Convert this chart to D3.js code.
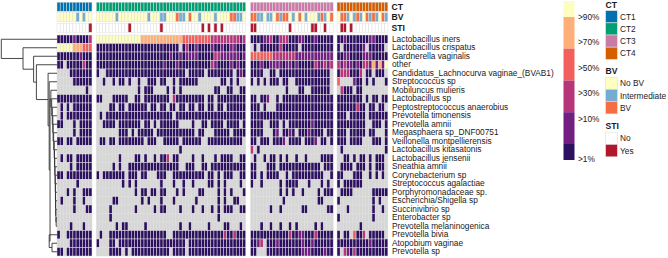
<!DOCTYPE html>
<html>

<head>
  <meta charset="UTF-8">
  <title>Vaginal microbiome heatmap</title>
  <script src="https://d3js.org/d3.v7.min.js"></script>
  <style>
    html, body { margin: 0; background: white; }
    svg { display: block; }
    text { font-family: "Liberation Sans", Arial, sans-serif; fill: #1a1a1a; }
  </style>
</head>

<body>
  <svg id="chart" width="668" height="258"></svg>

  <script>
    // row labels, top to bottom
    const taxa = ["Lactobacillus iners", "Lactobacillus crispatus", "Gardnerella vaginalis", "other",
      "Candidatus_Lachnocurva vaginae_(BVAB1)", "Streptococcus sp", "Mobiluncus mulieris", "Lactobacillus sp",
      "Peptostreptococcus anaerobius", "Prevotella timonensis", "Prevotella amnii", "Megasphaera sp_DNF00751",
      "Veillonella montpellierensis", "Lactobacillus kitasatonis", "Lactobacillus jensenii", "Sneathia amnii",
      "Corynebacterium sp", "Streptococcus agalactiae", "Porphyromonadaceae sp.", "Escherichia/Shigella sp",
      "Succinivibrio sp", "Enterobacter sp", "Prevotella melaninogenica", "Prevotella bivia",
      "Atopobium vaginae", "Prevotella sp"];

    const ctGroups = ["CT1", "CT2", "CT3", "CT4"];

    // abundance bin per sample, one string per taxon: 0 absent, 1 >1%, 2 >10%, 3 >30%, 4 >50%, 5 >70%, 6 >90%
    const ct1Bins = ["11111211113", "66666555444", "11111112111", "11011111311", "00001111111", "00000111111",
      "00000000010", "11111111111", "01010111111", "01011111111", "11000101111", "00000101111", "11011011111",
      "00000000000", "01011011111", "00001011111", "11011111111", "00000010000", "00010100111", "01000100100",
      "00000100011", "00000000000", "00001000100", "10011111111", "00001111111", "11011111111"];

    const ct2Bins = [
      "6666666666 6666555555 5555555444 4444443333 3333323",
      "1111111111 1111111111 1111110131 1211112112 1122111",
      "1111111111 1111111111 1112112122 2211111332 2222212",
      "1111111111 1111111111 1211121111 1111113211 1121211",
      "1001111111 1111111111 1111111101 1111011111 1110121",
      "0010010110 1001001110 1100101111 1100000001 1010100",
      "0000000000 0001011100 0010101000 0000000110 0110011",
      "1100011111 0011011111 1110311111 1111011011 1111111",
      "0000110110 1111110110 1101101101 1011011011 0111111",
      "0101111111 1111111111 1111011111 1111111111 1111111",
      "0011110111 1111011010 1111110000 1001101111 0111101",
      "0000000111 0101111101 1111111111 1011000111 1101111",
      "0110110111 1111101110 0111110111 1110011111 1111110",
      "0000000000 0000000000 0000001000 0000000000 0000000",
      "0000000100 0011010010 1130110000 1001000101 1110011",
      "0000010100 1111111111 1111110011 1001101111 1111111",
      "1011111110 1110110001 1100111111 1111011010 1110011",
      "0000000010 1010000000 1000100100 1000011010 1000010",
      "0000000000 0010110110 1100010100 0011000010 1010001",
      "0000011000 0000101000 1000100000 0100000010 1001100",
      "0000100000 0010000010 1100001000 1001001010 1110011",
      "0000100000 0000000000 0000000000 0000000010 0000000",
      "0000001011 0000010000 0000001001 0000010000 1100010",
      "0100111111 1111111111 1100111111 1111111111 3113111",
      "1000110111 1111111111 1111111101 1111111111 1111111",
      "0000111101 0111111111 1110111101 1111111111 1111111"];

    const ct3Bins = [
      "1111223113 3311122111 211111", "0101111113 1111101111 111111", "4444444333 3333222222 222222",
      "1112112222 1221211111 322323", "1111001101 1111111111 111110", "1010101110 1100111111 111110",
      "0000000000 0100011001 111110", "1101120010 1111111111 111111", "1110100011 1111111111 111111",
      "1111111111 1111111111 111111", "1111001110 1011111112 111111", "1111000120 1121011121 111011",
      "1101110111 2011110111 201101", "3010000000 0000000000 000000", "0100101101 0100100100 001111",
      "1100011101 1111111111 110111", "1101011110 0101111111 111001", "1001000001 0111100010 001010",
      "0000000001 0101001000 010111", "0000000000 1000000000 011000", "0000001001 0000001100 000011",
      "0000000000 0000000000 000000", "0001001001 0010100000 101000", "1111111111 1131122111 311111",
      "1123011121 1111112112 111111", "1100011111 1111112221 111211"];

    const ct4Bins = ["1121111111221111", "1011111120111110", "1122111122211111", "3232212133252526",
      "1333111301101110", "4000021101010001", "0311101100000000", "1111111101011011", "1111113110110110",
      "1110111110111111", "1111111110011101", "1110111110110001", "1110111100011101", "0100000000000001",
      "0011010110101110", "0111101110101110", "1100011100101010", "1011111100000000", "0111100000011111",
      "1000000000010100", "0001000000010010", "1000000000010000", "0000000100000000", "1011041130111110",
      "1111111111211111", "1032131111111111"];

    // top annotations per sample: n No BV, i Intermediate, b BV / 0 no, 1 yes
    const bvCalls = ["nnnnnninin n",
      "nnnnnninnn nnnnnninnn iinnnbiinb nninnnninn nnbbiin",
      "bbiiniinbi bbninbninn nibinb",
      "nbbinibinbibinbi"];
    const stiCalls = ["00000000001",
      "0000000000 1000000000 1000000000 0001010101 0000000",
      "1100000000 0010000001 100100",
      "0110100000000000"];

    const binLabels = [">90%", ">70%", ">50%", ">30%", ">10%", ">1%"];
    const binColors = ["#FCFDBF", "#FEAF77", "#F1605D", "#B63679", "#721F81", "#2D1160"];
    const bvLabels = ["No BV", "Intermediate", "BV"];
    const stiLabels = ["No", "Yes"];

    // merge heights of the row dendrogram, numbers at the leaves are row indexes
    const bottomBlock = [0.14, 23, [0.09, 24, 25]];
    const ladder = [0.11, 6, [0.095, 7, [0.085, 8, [0.075, 9, [0.07, 10, [0.06, 11, [0.05, 12, [0.045, 13,
      [0.04, 14, [0.035, 15, [0.03, 16, [0.028, 17, [0.026, 18, [0.024, 19, [0.02, 20, [0.015, 21, 22]]]]]]]]]]]]]]]];
    const rowTree = [1, 0, [0.61, 1, [0.42, 2, [0.37, 3, [0.16, 4, [0.14, 5, [0.125, ladder, bottomBlock]]]]]]];

    const svg = d3.select("svg#chart");
    const clean = s => s.replace(/ /g, "");

    const groupStarts = [57, 96.3, 250.5, 337];
    const cellWidth = 3.18;
    const allBins = [ct1Bins, ct2Bins, ct3Bins, ct4Bins];

    // one band scale per CT group, the gaps between them split the columns
    const colScales = allBins.map((bins, g) => {
      const n = clean(bins[0]).length;
      return d3.scaleBand().domain(d3.range(n)).range([groupStarts[g], groupStarts[g] + n * cellWidth]);
    });

    const rowScale = d3.scaleBand().domain(taxa).range([35, 256]);
    const binFill = d3.scaleOrdinal().domain(["6", "5", "4", "3", "2", "1", "0"])
      .range(binColors.concat(["#d6d6d6"]));
    const ctFill = d3.scaleOrdinal().domain(ctGroups).range(["#0072B2", "#009E73", "#CC79A7", "#D55E00"]);
    const bvFill = d3.scaleOrdinal().domain(["n", "i", "b"]).range(["#FFFFBF", "#74ADD1", "#F46D43"]);
    const stiFill = d3.scaleOrdinal().domain(["0", "1"]).range(["#ffffff", "#B2182B"]);

    // heatmap cells
    allBins.forEach((bins, g) => {
      const cells = [];
      bins.forEach((row, r) => {
        clean(row).split("").forEach((v, c) => cells.push({ r: r, c: c, v: v }));
      });
      svg.append("g").selectAll("rect").data(cells)
        .join("rect")
        .attr("x", d => colScales[g](d.c))
        .attr("y", d => rowScale(taxa[d.r]))
        .attr("width", colScales[g].bandwidth())
        .attr("height", rowScale.bandwidth())
        .attr("fill", d => binFill(d.v))
        .attr("stroke", "#dedede")
        .attr("stroke-width", 0.5);
    });

    // annotation tracks above the heatmap
    const trackScale = d3.scaleBand().domain(["CT", "BV", "STI"]).range([2.2, 32.2]).paddingInner(0.14);
    ctGroups.forEach((name, g) => {
      const bv = clean(bvCalls[g]);
      const sti = clean(stiCalls[g]);
      const tracks = [
        { name: "CT", fill: () => ctFill(name) },
        { name: "BV", fill: c => bvFill(bv[c]) },
        { name: "STI", fill: c => stiFill(sti[c]) }
      ];
      tracks.forEach(t => {
        svg.append("g").selectAll("rect").data(colScales[g].domain())
          .join("rect")
          .attr("x", c => colScales[g](c))
          .attr("y", trackScale(t.name))
          .attr("width", colScales[g].bandwidth())
          .attr("height", trackScale.bandwidth())
          .attr("fill", c => t.fill(c))
          .attr("stroke", "#dedede")
          .attr("stroke-width", 0.5);
      });
    });

    svg.append("g").selectAll("text").data(trackScale.domain())
      .join("text")
      .attr("x", 391.5)
      .attr("y", d => trackScale(d) + trackScale.bandwidth() / 2)
      .attr("dy", "0.35em")
      .attr("font-size", "8.6px")
      .attr("font-weight", "bold")
      .text(d => d);

    // row labels
    const rowAxis = d3.axisRight(rowScale).tickSize(0).tickPadding(0);
    const rowAxisG = svg.append("g").attr("transform", "translate(392,0)").call(rowAxis);
    rowAxisG.select(".domain").remove();
    rowAxisG.selectAll("text").attr("font-size", "8.3px").style("font-family", '"Liberation Sans", Arial, sans-serif');

    // dendrogram, node height goes to x and node centre goes to y
    const heightX = d3.scaleLinear().domain([0, 1]).range([57, 1.3]);
    const treeG = svg.append("g").attr("fill", "none").attr("stroke", "#333").attr("stroke-width", 0.9);

    function drawNode(node) {
      if (typeof node === "number") {
        return { y: rowScale(taxa[node]) + rowScale.bandwidth() / 2, x: heightX(0) };
      }
      const a = drawNode(node[1]);
      const b = drawNode(node[2]);
      const x = heightX(node[0]);
      treeG.append("path").attr("d", d3.line()([[a.x, a.y], [x, a.y], [x, b.y], [b.x, b.y]]));
      return { y: (a.y + b.y) / 2, x: x };
    }
    drawNode(rowTree);

    // colour bar legend, first and last steps are half size
    const barScale = d3.scaleLinear().domain([0, 5]).range([17, 144]);
    const barTop = [1, 17, 48.7, 80.5, 112.2, 144];
    const barBottom = [17, 48.7, 80.5, 112.2, 144, 160];
    const barG = svg.append("g");
    barG.selectAll("rect").data(binLabels)
      .join("rect")
      .attr("x", 563.5)
      .attr("y", (d, i) => barTop[i])
      .attr("width", 11)
      .attr("height", (d, i) => barBottom[i] - barTop[i])
      .attr("fill", (d, i) => binColors[i]);
    barG.selectAll("text").data(binLabels)
      .join("text")
      .attr("x", 578)
      .attr("y", (d, i) => i < 5 ? barScale(i) : 159)
      .attr("dy", "0.35em")
      .attr("font-size", "8.3px")
      .text(d => d);

    // discrete legends on the right
    function drawLegend(title, titleY, labels, fill, top, step) {
      const g = svg.append("g");
      g.append("text").attr("x", 605.5).attr("y", titleY).attr("dy", "0.35em")
        .attr("font-size", "8.6px").attr("font-weight", "bold").text(title);
      g.selectAll("rect").data(labels)
        .join("rect")
        .attr("x", 605.7)
        .attr("y", (d, i) => top + i * step)
        .attr("width", 11.6)
        .attr("height", step)
        .attr("fill", d => fill(d))
        .attr("stroke", "#ddd")
        .attr("stroke-width", 0.6);
      g.selectAll("text.label").data(labels)
        .join("text")
        .attr("class", "label")
        .attr("x", 620)
        .attr("y", (d, i) => top + (i + 0.5) * step)
        .attr("dy", "0.35em")
        .attr("font-size", "8.3px")
        .text(d => d);
    }

    drawLegend("CT", 4.5, ctGroups, ctFill, 10.7, 12.15);
    drawLegend("BV", 71, bvLabels, d => bvFill(d === "No BV" ? "n" : d === "BV" ? "b" : "i"), 77.3, 12.2);
    drawLegend("STI", 126, stiLabels, d => stiFill(d === "Yes" ? "1" : "0"), 132.2, 12.3);
  </script>
</body>

</html>
